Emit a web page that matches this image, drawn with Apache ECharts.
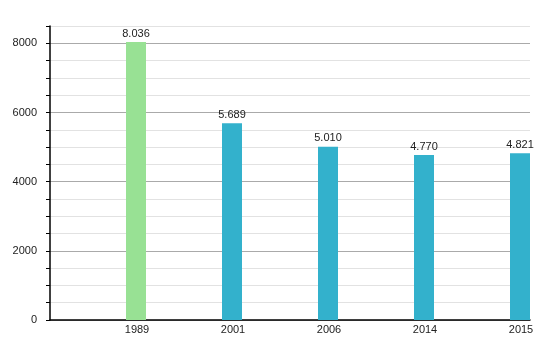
<!DOCTYPE html>
<html><head><meta charset="utf-8">
<script src="https://cdn.jsdelivr.net/npm/echarts@6/dist/echarts.min.js"></script>
<style>html,body{margin:0;padding:0;background:#fff}#c{width:550px;height:350px}</style>
</head><body><div id="c"></div>
<script>
const categories = ['1989', '2001', '2006', '2014', '2015'];
const values = [8036, 5689, 5010, 4770, 4821];
const barColors = ['#98e194', '#33b1cc', '#33b1cc', '#33b1cc', '#33b1cc'];
const yTicks = [0, 2000, 4000, 6000, 8000];

const chart = echarts.init(document.getElementById('c'), null, {renderer: 'canvas'});
const fmt = v => {
  const s = String(v);
  return s.length > 3 ? s.slice(0, s.length - 3) + '.' + s.slice(-3) : s;
};
chart.setOption({
  animation: false,
  textStyle: {fontFamily: 'Liberation Sans, Arial, sans-serif'},
  grid: {left: 50, right: 20, top: 26, bottom: 30},
  xAxis: {
    type: 'category',
    data: categories,
    boundaryGap: true,
    axisLine: {lineStyle: {color: '#000', width: 1.5}},
    axisTick: {show: false},
    axisLabel: {color: '#222', fontSize: 11, margin: 4, padding: [0, 0, 0, 78]},
    splitLine: {show: false}
  },
  yAxis: {
    type: 'value',
    min: 0, max: 8500, interval: 500,
    axisLine: {show: true, lineStyle: {color: '#000', width: 1.5}},
    axisTick: {show: true, length: 4, lineStyle: {color: '#000'}},
    axisLabel: {
      color: '#222', fontSize: 11, margin: 13,
      formatter: v => yTicks.includes(v) ? String(v) : ''
    },
    splitLine: {show: true, lineStyle: {color: ['#aaaaaa', '#e2e2e2', '#e2e2e2', '#e2e2e2'], width: 1}}
  },
  series: [
    {type: 'bar', data: categories.map(() => null), barWidth: 20, barGap: '280%', silent: true},
    {
      type: 'bar',
      data: values.map((v, i) => ({value: v, itemStyle: {color: barColors[i]}})),
      barWidth: 20,
      label: {show: true, position: 'top', color: '#222', fontSize: 11, distance: 3,
        formatter: p => fmt(p.value)}
    }
  ]
});
</script></body></html>
